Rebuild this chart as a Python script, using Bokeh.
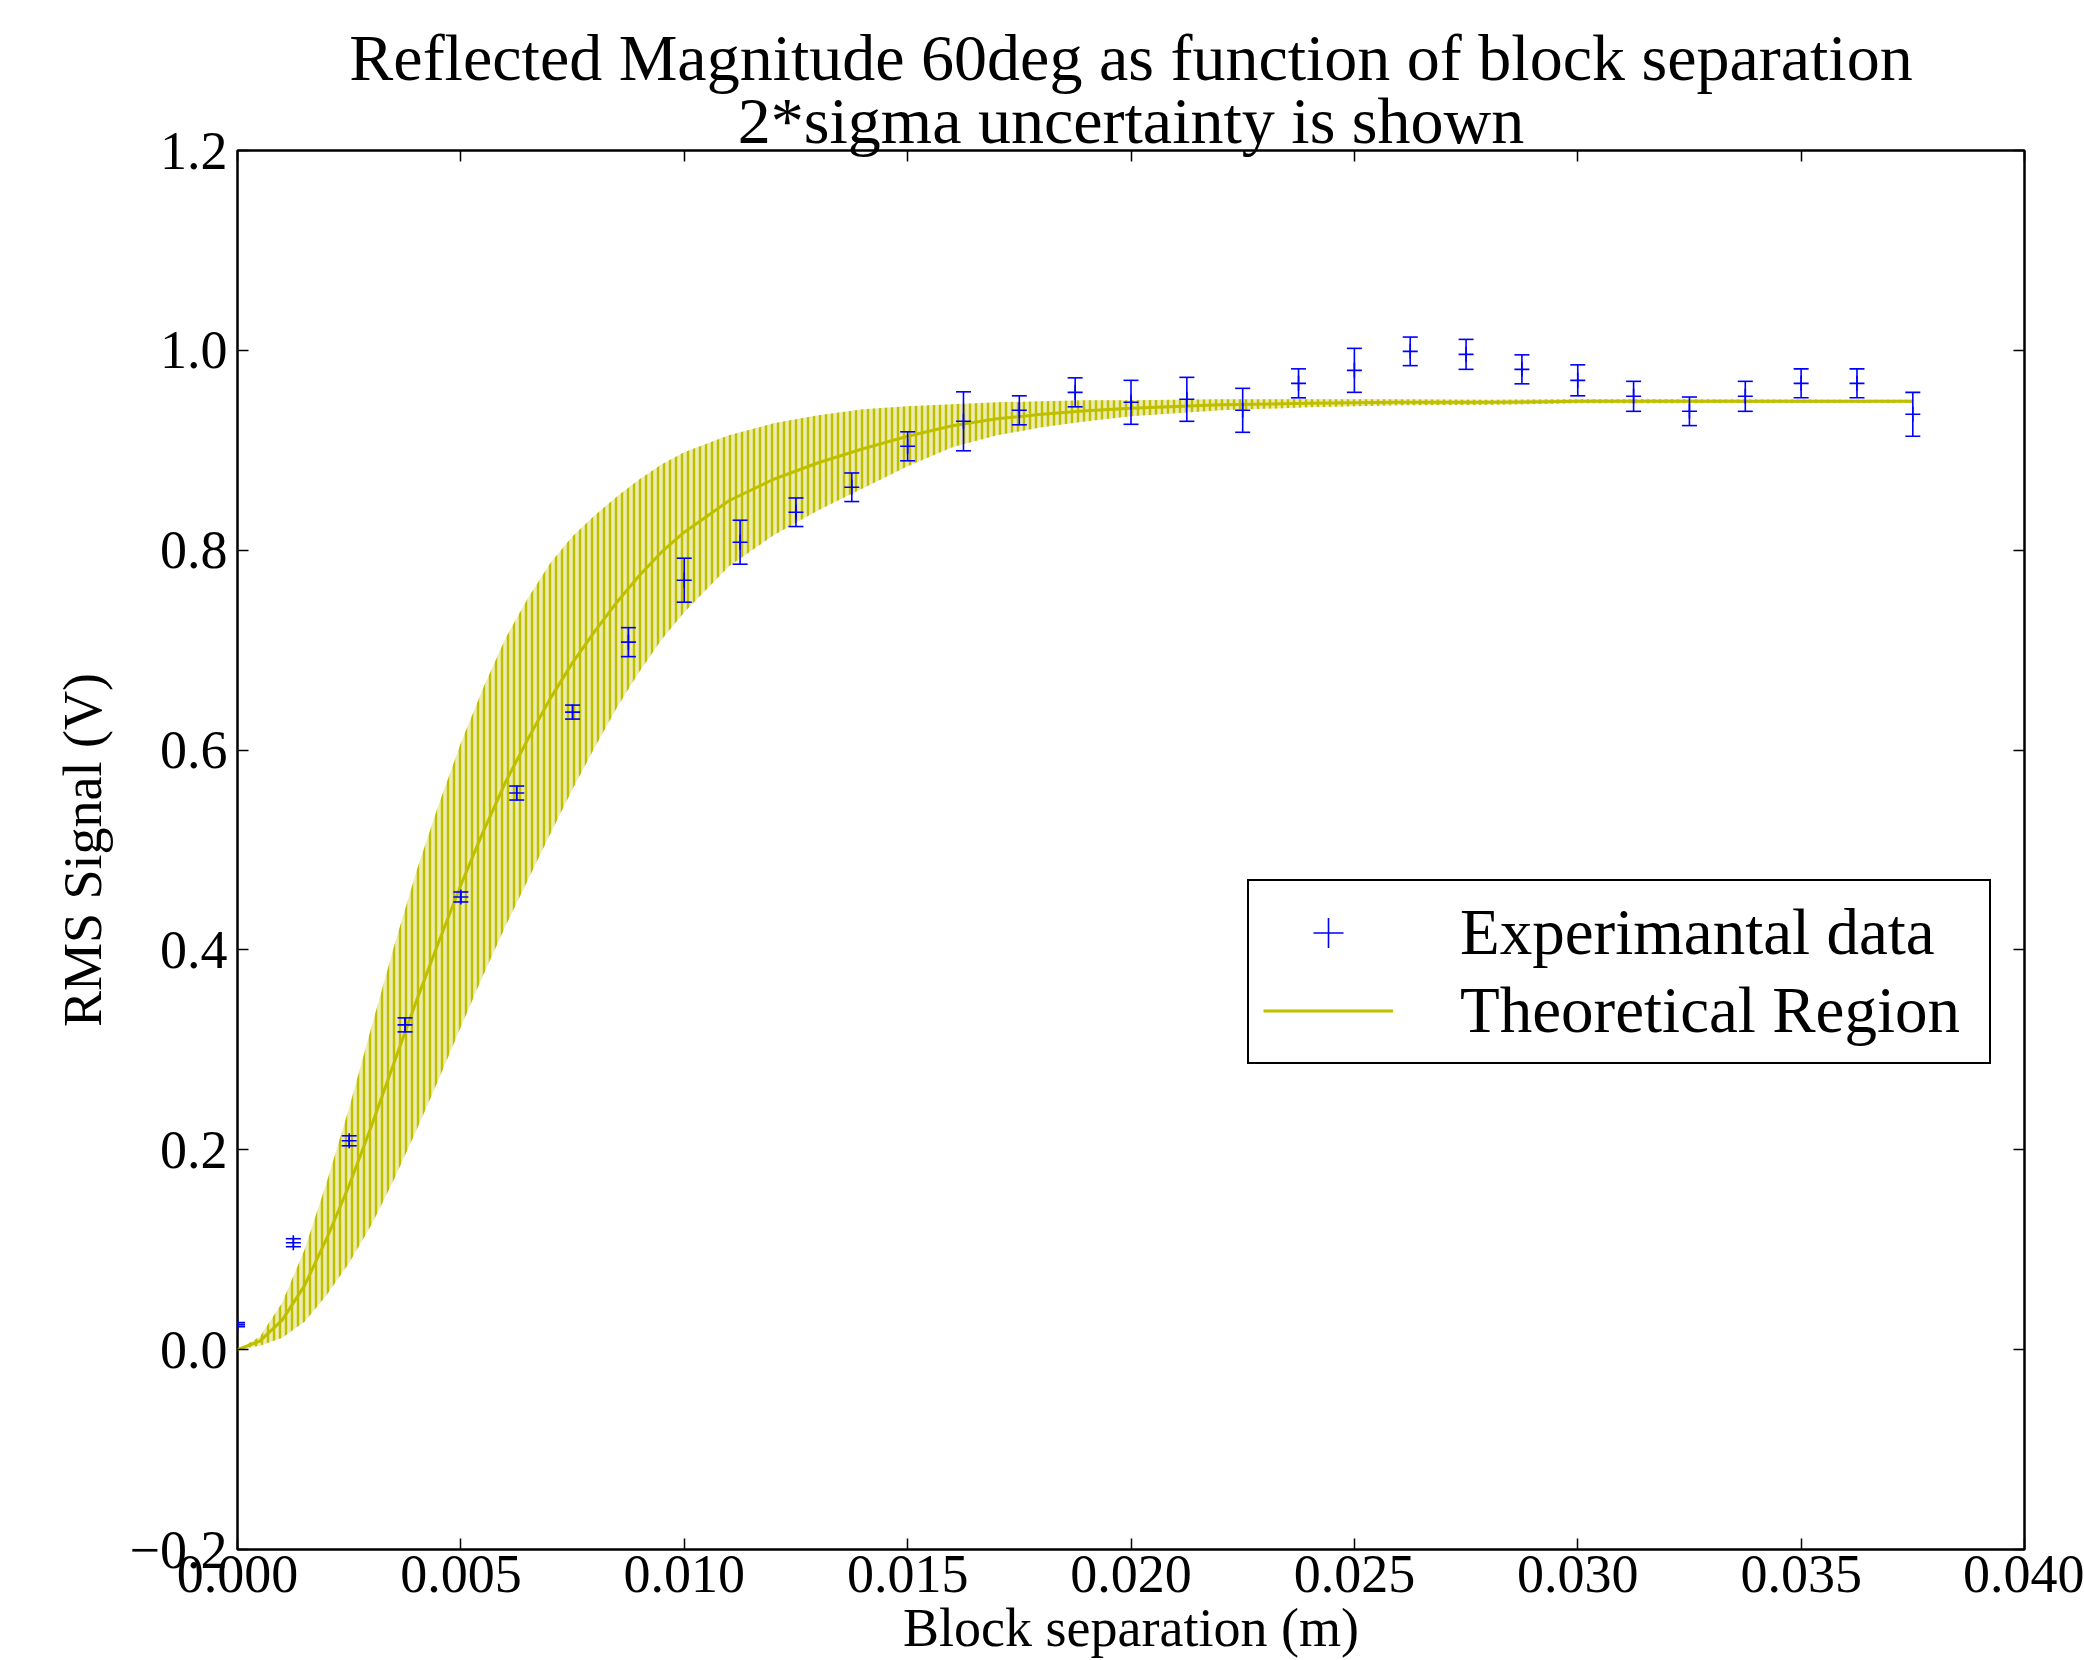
from bokeh.plotting import figure
from bokeh.models import (FixedTicker, LinearAxis, Range1d, Legend, LegendItem, Title)
from bokeh.embed import file_html
from bokeh.resources import INLINE

# ---------------- data ----------------
x_exp = [0.0, 0.00125, 0.0025, 0.00375, 0.005, 0.00625, 0.0075, 0.00875, 0.01, 0.01125,
         0.0125, 0.01375, 0.015, 0.01625, 0.0175, 0.01875, 0.02, 0.02125, 0.0225, 0.02375,
         0.025, 0.02625, 0.0275, 0.02875, 0.03, 0.03125, 0.0325, 0.03375, 0.035, 0.03625, 0.0375]
y_exp = [0.025, 0.107, 0.209, 0.325, 0.453, 0.557, 0.638, 0.708, 0.770, 0.808,
         0.838, 0.863, 0.904, 0.929, 0.940, 0.958, 0.948, 0.951, 0.940, 0.967,
         0.980, 0.999, 0.996, 0.981, 0.970, 0.954, 0.939, 0.954, 0.967, 0.967, 0.936]
err_exp = [0.002, 0.004, 0.005, 0.007, 0.005, 0.007, 0.007, 0.0145, 0.022, 0.022,
           0.0143, 0.0143, 0.0145, 0.0295, 0.0145, 0.0145, 0.022, 0.022, 0.022, 0.0145,
           0.022, 0.0143, 0.015, 0.0145, 0.0155, 0.015, 0.0143, 0.015, 0.0145, 0.0145, 0.022]

x_theory = [0.0, 0.0005, 0.001, 0.0015, 0.002, 0.0025, 0.003, 0.0035, 0.004, 0.0045,
            0.005, 0.0055, 0.006, 0.0065, 0.007, 0.0075, 0.008, 0.0085, 0.009, 0.0095,
            0.010, 0.011, 0.012, 0.013, 0.014, 0.015, 0.016, 0.017, 0.018, 0.019,
            0.020, 0.022, 0.024, 0.026, 0.028, 0.030, 0.032, 0.034, 0.036, 0.0375]
y_theory = [0.0, 0.0085, 0.0295, 0.064, 0.1115, 0.1645, 0.224, 0.2865, 0.3485, 0.4075,
            0.465, 0.5185, 0.568, 0.611, 0.6515, 0.6875, 0.719, 0.7485, 0.775, 0.7985,
            0.818, 0.8495, 0.871, 0.8875, 0.9015, 0.914, 0.9245, 0.9315, 0.936, 0.9395,
            0.942, 0.9455, 0.947, 0.948, 0.948, 0.949, 0.949, 0.949, 0.949, 0.949]
err_theory = [0.0, 0.0045, 0.0175, 0.036, 0.0565, 0.0775, 0.099, 0.1165, 0.1295, 0.1375,
              0.142, 0.1435, 0.144, 0.141, 0.1355, 0.1265, 0.116, 0.1055, 0.096, 0.0875,
              0.080, 0.0655, 0.056, 0.0475, 0.0395, 0.030, 0.0215, 0.0165, 0.013, 0.0105,
              0.008, 0.0055, 0.004, 0.003, 0.0025, 0.002, 0.002, 0.0018, 0.0015, 0.0015]

x_ticks = [0.0, 0.005, 0.01, 0.015, 0.02, 0.025, 0.03, 0.035, 0.04]
x_tick_labels = ["0.000", "0.005", "0.010", "0.015", "0.020", "0.025", "0.030", "0.035", "0.040"]
y_ticks = [-0.2, 0.0, 0.2, 0.4, 0.6, 0.8, 1.0, 1.2]
y_tick_labels = ["\u22120.2", "0.0", "0.2", "0.4", "0.6", "0.8", "1.0", "1.2"]

title_line1 = "Reflected Magnitude 60deg as function of block separation"
title_line2 = "2*sigma uncertainty is shown"
x_label = "Block separation (m)"
y_label = "RMS Signal (V)"
legend_labels = ["Experimantal data", "Theoretical Region"]

# ---------------- layout ----------------
W, H = 2084, 1660
LEFT, RIGHT, TOP, BOTTOM = 237, 60, 150, 108
FONT = "Liberation Serif"
BLUE = "#0000ff"
OLIVE = "#bfbf00"

p = figure(width=W, height=H, x_range=Range1d(0, 0.04), y_range=Range1d(-0.2, 1.2),
           output_backend="svg", toolbar_location=None,
           min_border_left=LEFT, min_border_right=RIGHT,
           min_border_top=TOP, min_border_bottom=BOTTOM)
p.xgrid.visible = False
p.ygrid.visible = False
p.outline_line_color = "black"
p.outline_line_width = 2.5
p.outline_line_alpha = 1.0
p.background_fill_color = "white"
p.border_fill_color = "white"


def style_axis(ax, ticks, labels=None):
    ax.ticker = FixedTicker(ticks=ticks)
    ax.axis_line_color = None
    ax.major_tick_in = 11
    ax.major_tick_out = 0
    ax.major_tick_line_color = "black"
    ax.major_tick_line_width = 1.5
    ax.minor_tick_line_color = None
    ax.major_label_text_font = FONT
    ax.major_label_text_color = "black"
    if labels is None:
        ax.major_label_text_font_size = "1px"
        ax.major_label_standoff = 0
        ax.major_label_overrides = {t: "" for t in ticks}
    else:
        ax.major_label_text_font_size = "54px"
        ax.major_label_overrides = {t: l for t, l in zip(ticks, labels)}
    ax.axis_label_text_font = FONT
    ax.axis_label_text_font_size = "54px"
    ax.axis_label_text_font_style = "normal"
    ax.axis_label_text_color = "black"


xa = p.xaxis[0]
style_axis(xa, x_ticks, x_tick_labels)
xa.major_label_standoff = 6
xa.axis_label = x_label
xa.axis_label_standoff = 3

ya = p.yaxis[0]
style_axis(ya, y_ticks, y_tick_labels)
ya.major_label_standoff = 10
ya.axis_label = y_label
ya.axis_label_standoff = 14

top_axis = LinearAxis()
style_axis(top_axis, x_ticks)
p.add_layout(top_axis, "above")
right_axis = LinearAxis()
style_axis(right_axis, y_ticks)
p.add_layout(right_axis, "right")

# title: second line first (closest to the plot), then first line above it
for line in [title_line2, title_line1]:
    p.add_layout(Title(text=line, align="center",
                       text_font=FONT, text_font_size="66px", text_font_style="normal",
                       text_color="black", standoff=-12), "above")

# ---------------- theoretical band ----------------
lower_th = [c - e for c, e in zip(y_theory, err_theory)]
upper_th = [c + e for c, e in zip(y_theory, err_theory)]
p.varea(x=x_theory, y1=lower_th, y2=upper_th, fill_color=OLIVE, fill_alpha=0.3,
        hatch_pattern="|", hatch_color=OLIVE, hatch_scale=6, hatch_weight=2.5)
r_line = p.line(x_theory, y_theory, line_color=OLIVE, line_width=3)

# ---------------- experimental data ----------------
lower_exp = [v - e for v, e in zip(y_exp, err_exp)]
upper_exp = [v + e for v, e in zip(y_exp, err_exp)]
p.segment(x0=x_exp, y0=lower_exp, x1=x_exp, y1=upper_exp, line_color=BLUE, line_width=1.6)
p.scatter(x_exp, lower_exp, marker="dash", size=15, line_color=BLUE, line_width=1.6)
p.scatter(x_exp, upper_exp, marker="dash", size=15, line_color=BLUE, line_width=1.6)
r_pts = p.scatter(x_exp, y_exp, marker="cross", size=15, line_color=BLUE, line_width=1.6)

# ---------------- legend ----------------
legend = Legend(items=[LegendItem(label=legend_labels[0], renderers=[r_pts]),
                       LegendItem(label=legend_labels[1], renderers=[r_line])],
                location=(1010, 485), margin=0, padding=14, spacing=3,
                glyph_width=130, glyph_height=75, label_height=75, label_width=515,
                label_standoff=67,
                label_text_font=FONT, label_text_font_size="65px", label_text_color="black",
                border_line_color="black", border_line_width=2.5, border_line_alpha=1.0,
                background_fill_color="white", background_fill_alpha=1.0)
p.add_layout(legend)

open("out.html", "w").write(file_html(p, INLINE))
